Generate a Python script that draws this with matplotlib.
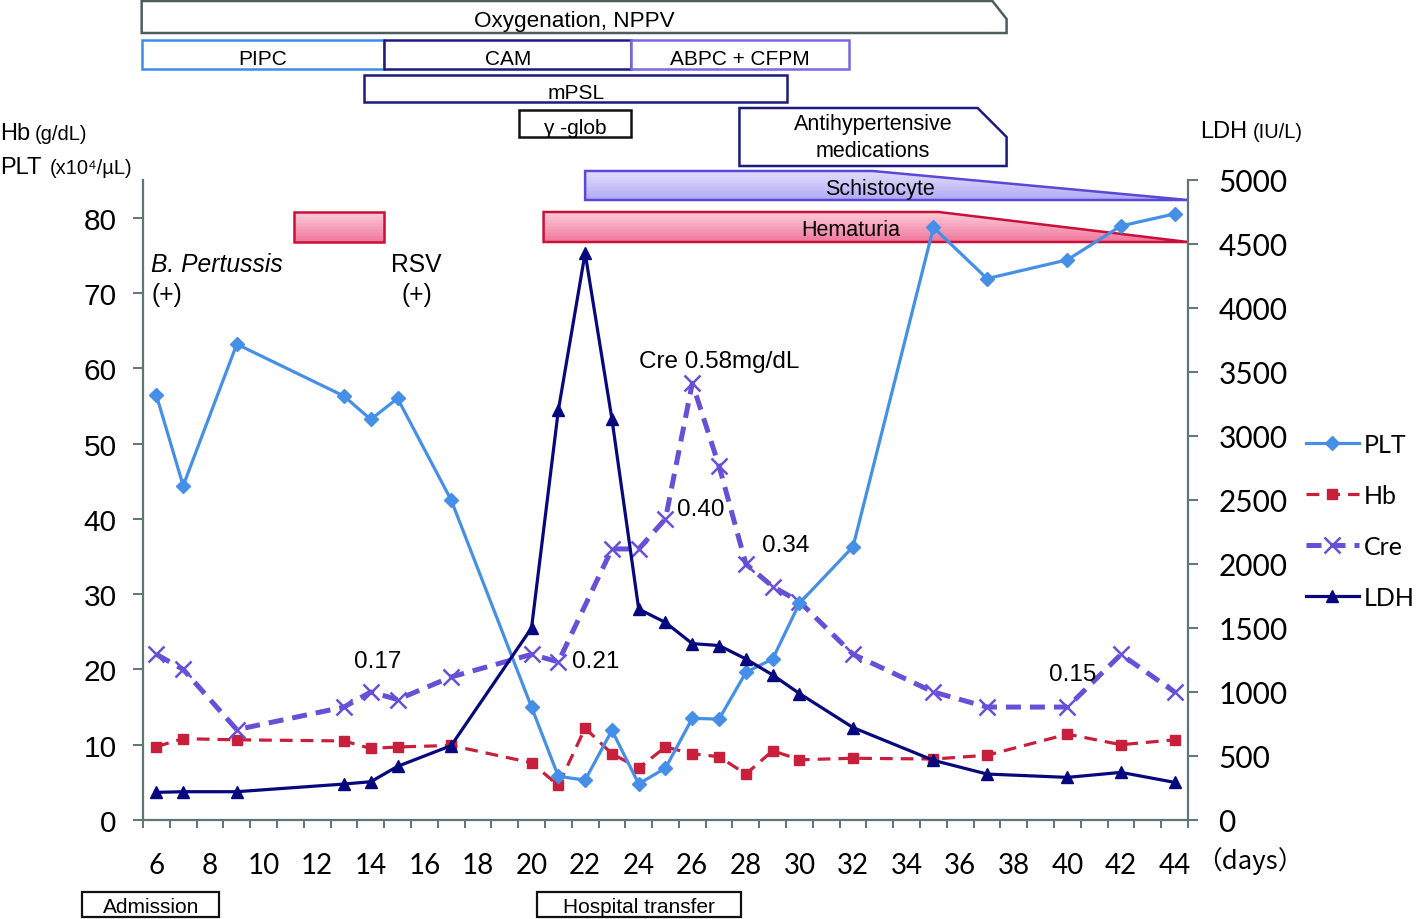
import matplotlib
matplotlib.use('Agg')
import matplotlib.pyplot as plt
import matplotlib.transforms as mtransforms
from matplotlib.patches import Polygon, Rectangle
import numpy as np

plt.rcParams['font.family'] = ['Liberation Sans', 'DejaVu Sans']

# ---------------- data ----------------
days = [6, 7, 9, 13, 14, 15, 17, 20, 21, 22, 23, 24, 25, 26, 27, 28, 29, 30, 32, 35, 37, 40, 42, 44]
plt_vals = [56.4, 44.4, 63.2, 56.3, 53.2, 56.0, 42.5, 15.0, 5.8, 5.3, 11.9, 4.8, 6.9, 13.5, 13.4,
            19.6, 21.4, 28.8, 36.3, 78.7, 71.9, 74.4, 78.9, 80.5]
hb_vals = [9.75, 10.8, 10.65, 10.5, 9.5, 9.7, 9.9, 7.6, 4.6, 12.2, 8.8, 6.9, 9.7, 8.8, 8.4,
           6.1, 9.2, 8.0, 8.2, 8.1, 8.6, 11.4, 10.0, 10.65]
cre_days = [6, 7, 9, 13, 14, 15, 17, 20, 21, 23, 24, 25, 26, 27, 28, 29, 30, 32, 35, 37, 40, 42, 44]
cre_vals = [0.22, 0.20, 0.12, 0.15, 0.17, 0.16, 0.19, 0.22, 0.21, 0.36, 0.36, 0.40, 0.58, 0.47,
            0.34, 0.31, 0.29, 0.22, 0.17, 0.15, 0.15, 0.22, 0.17]
ldh_vals = [216, 221, 221, 281, 299, 419, 581, 1500, 3200, 4430, 3133, 1648, 1543, 1378, 1363,
            1258, 1133, 988, 722, 466, 359, 333, 372, 294]

xtick_pos = list(range(6, 45, 2))
xtick_labels = [str(d) for d in xtick_pos]
left_ticks = list(range(0, 81, 10))
right_ticks = list(range(0, 5001, 500))

# Cre annotations (label, day, value-position)
cre_notes = ['0.17', '0.21', '0.40', '0.34', '0.15']
cre_note_day = [14.25, 22.4, 26.3, 29.5, 40.2]
cre_note_y = [21.1, 21.1, 41.3, 36.5, 19.4]

# therapy timeline (days)
therapy_labels = ['Oxygenation, NPPV', 'PIPC', 'CAM', 'ABPC + CFPM', 'mPSL', 'γ -glob',
                  'Antihypertensive\nmedications']
therapy_start = [5.45, 5.45, 14.5, 23.73, 13.76, 19.55, 27.76]
therapy_end = [37.73, 14.5, 23.73, 31.83, 29.55, 23.73, 37.73]

finding_labels = ['Schistocyte', 'Hematuria', '']
finding_start = [22.0, 20.45, 11.15]
finding_flat_end = [32.73, 35.2, 14.5]
finding_end = [44.5, 44.5, 14.5]

event_labels = ['Admission', 'Hospital transfer']
event_start = [3.24, 20.22]
event_end = [8.35, 27.8]

# ---------------- styles ----------------
W, H = 1418, 920
C_PLT = '#4590E6'
C_HB = '#C8203C'
C_CRE = '#6650D8'
C_LDH = '#08087E'
C_AX = '#5E7676'

fig = plt.figure(figsize=(W / 100, H / 100), dpi=100)
fig.patch.set_facecolor('white')
ax = fig.add_axes([143 / W, (H - 821) / H, (1188 - 143) / W, 640 / H])
ax.set_facecolor('none')
ax.set_xlim(5.5, 44.5)
ax.set_ylim(0, 85)
ax2 = ax.twinx()
ax2.set_ylim(0, 5000)
ax2.set_facecolor('none')

for a in (ax, ax2):
    for s in a.spines.values():
        s.set_color(C_AX)
        s.set_linewidth(1.6)
    a.spines['top'].set_visible(False)
ax.spines['right'].set_visible(False)
ax2.spines['left'].set_visible(False)
ax2.spines['bottom'].set_visible(False)

ax.set_xticks(xtick_pos)
ax.set_xticklabels(xtick_labels, fontfamily='Lato', fontsize=20)
ax.set_xticks(np.arange(5.5, 44.6, 1.0), minor=True)
ax.tick_params(axis='x', which='major', length=0, pad=23)
ax.tick_params(axis='x', which='minor', length=6, width=1.4, color=C_AX)
ax.set_yticks(left_ticks)
ax.set_yticklabels([str(v) for v in left_ticks], fontsize=21.5)
ax.tick_params(axis='y', length=7, width=1.4, color=C_AX, pad=12)
ax2.set_yticks(right_ticks)
ax2.set_yticklabels([str(v) for v in right_ticks], fontfamily='Lato', fontsize=21.5)
ax2.tick_params(axis='y', length=7, width=1.4, color=C_AX, pad=15)

# ---------------- series ----------------
l_plt, = ax.plot(days, plt_vals, color=C_PLT, lw=2.3, marker='D', ms=7, zorder=5)
l_hb, = ax.plot(days, hb_vals, color=C_HB, lw=2.3, marker='s', ms=7.5, dashes=(4, 2.5), zorder=4)
l_cre, = ax.plot(cre_days, [v * 100 for v in cre_vals], color=C_CRE, lw=3.6, marker='x', ms=11,
                 mew=1.8, dashes=(3, 1.8), zorder=4)
l_ldh, = ax2.plot(days, ldh_vals, color=C_LDH, lw=2.3, marker='^', ms=9, zorder=5)

for t, d, y in zip(cre_notes, cre_note_day, cre_note_y):
    ax.text(d, y, t, fontsize=17.5, ha='center', va='center', zorder=6)
ax.text(27.0, 61.0, 'Cre 0.58mg/dL', fontsize=17.5, ha='center', va='center')
ax.text(5.8, 73.8, 'B. Pertussis', fontsize=17.7, style='italic', ha='left', va='center')
ax.text(5.8, 69.8, '(+)', fontsize=17.7, ha='left', va='center')
ax.text(14.75, 73.8, 'RSV', fontsize=17.7, ha='left', va='center')
ax.text(15.15, 69.8, '(+)', fontsize=17.7, ha='left', va='center')

# ---------------- timeline boxes ----------------
trans = mtransforms.blended_transform_factory(ax.transData, fig.transFigure)


def fy(p):
    return 1 - p / H


def add_box(x0, x1, ytop, ybot, ec, label, fs=15, chamfer=None, lw=1.8, dy=3):
    if chamfer is None:
        pts = [(x0, fy(ytop)), (x1, fy(ytop)), (x1, fy(ybot)), (x0, fy(ybot))]
    else:
        xc, ych = chamfer
        pts = [(x0, fy(ytop)), (xc, fy(ytop)), (x1, fy(ych)), (x1, fy(ybot)), (x0, fy(ybot))]
    p = Polygon(pts, closed=True, facecolor='white', edgecolor=ec, lw=lw, transform=trans, zorder=-1)
    fig.add_artist(p)
    if label:
        fig.add_artist(plt.Text((x0 + x1) / 2, fy((ytop + ybot) / 2 + dy), label, fontsize=fs,
                                ha='center', va='center', transform=trans, zorder=-0.5,
                                linespacing=1.4))


# row positions (pixels from top) and colors
therapy_rows = [(2, 34), (41, 70), (41, 70), (41, 70), (76, 103), (111, 138), (109, 167)]
therapy_colors = ['#4D5D5D', '#3A8EE8', '#1A1A80', '#7A68E0', '#1A1A80', '#111111', '#1A1A80']
therapy_fs = [16.2, 15, 15, 15, 15, 15, 15.5]
therapy_chamfer = [(37.2, 20), None, None, None, None, None, (36.65, 138)]
for lab, s, e, (yt, yb), c, fs, ch in zip(therapy_labels, therapy_start, therapy_end,
                                         therapy_rows, therapy_colors, therapy_fs, therapy_chamfer):
    add_box(s, e, yt, yb, c, lab, fs=fs, chamfer=ch, dy=(0 if '\n' in lab else 4))

# finding bands with gradient fill
finding_rows = [(172, 201), (213, 243), (213, 243)]
finding_edge = ['#5A48D8', '#C8103A', '#C8103A']
finding_top = [np.array([0.89, 0.87, 0.99]), np.array([0.99, 0.80, 0.86]), np.array([0.99, 0.80, 0.86])]
finding_bot = [np.array([0.69, 0.66, 0.95]), np.array([0.94, 0.46, 0.60]), np.array([0.94, 0.46, 0.60])]
for lab, s, fe, e, (yt, yb), ec, ct, cb in zip(finding_labels, finding_start, finding_flat_end,
                                               finding_end, finding_rows, finding_edge,
                                               finding_top, finding_bot):
    if fe < e:
        pts = [(s, fy(yt)), (fe, fy(yt)), (e, fy(yb)), (s, fy(yb))]
    else:
        pts = [(s, fy(yt)), (e, fy(yt)), (e, fy(yb)), (s, fy(yb))]
    clip = Polygon(pts, closed=True, transform=trans, facecolor='none', edgecolor='none')
    n = 20
    for i in range(n):
        frac = (i + 0.5) / n
        col = ct * (1 - frac) + cb * frac
        y0 = yt + (yb - yt) * i / n
        y1 = yt + (yb - yt) * (i + 1) / n + 0.6
        r = Rectangle((s, fy(y1)), e - s, fy(y0) - fy(y1), transform=trans, facecolor=col,
                      edgecolor='none', zorder=-1)
        r.set_clip_path(clip)
        fig.add_artist(r)
    outline = Polygon(pts, closed=True, facecolor='none', edgecolor=ec, lw=1.8, transform=trans,
                      zorder=-0.8)
    fig.add_artist(outline)
    if lab:
        cx = {'Schistocyte': 33.0, 'Hematuria': 31.9}.get(lab, (s + fe) / 2)
        fig.add_artist(plt.Text(cx, fy((yt + yb) / 2 + 3), lab, fontsize=15.5, ha='center',
                                va='center', transform=trans, zorder=-0.5))

# event boxes below the axis
for lab, s, e in zip(event_labels, event_start, event_end):
    add_box(s, e, 893, 918, '#111111', lab, fs=15, lw=1.6, dy=2)

# ---------------- axis labels ----------------
fig.text(0 / W, fy(134), 'Hb', fontsize=17, ha='left', va='center')
fig.text(35 / W, fy(135), '(g/dL)', fontsize=14.5, ha='left', va='center')
fig.text(0 / W, fy(168), 'PLT', fontsize=17, ha='left', va='center')
fig.text(50 / W, fy(169), '(x10⁴/µL)', fontsize=14.5, ha='left', va='center')
fig.text(1200 / W, fy(132), 'LDH', fontsize=17, ha='left', va='center')
fig.text(1253 / W, fy(133), '(IU/L)', fontsize=14.5, ha='left', va='center')
fig.text(1250 / W, fy(861), '（days）', fontsize=18.5, ha='center', va='center',
         family=['Noto Sans CJK JP', 'DejaVu Sans'])

# ---------------- legend ----------------
fig.legend([l_plt, l_hb, l_cre, l_ldh], ['PLT', 'Hb', 'Cre', 'LDH'], loc='upper left',
           bbox_to_anchor=(1306 / W, fy(434)), frameon=False, prop={'family': 'Lato', 'size': 18},
           handlelength=2.1, handletextpad=0.2, labelspacing=1.12, borderaxespad=0, borderpad=0)

fig.savefig('out.png', dpi=100, facecolor='white')
